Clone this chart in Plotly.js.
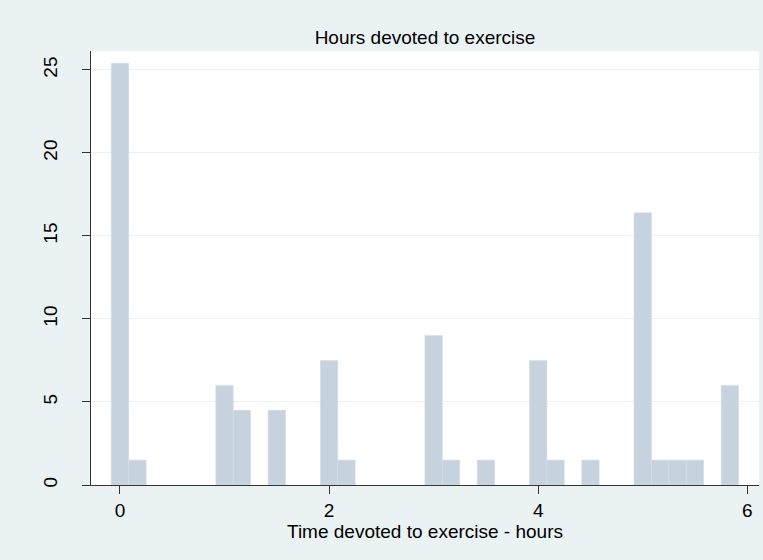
<!DOCTYPE html>
<html>
<head>
<meta charset="utf-8">
<script src="https://cdn.plot.ly/plotly-3.0.1.min.js"></script>
<style>html,body{margin:0;padding:0;background:#eaf2f3;}#chart{width:763px;height:560px;}</style>
</head>
<body>
<div id="chart"></div>
<script>
// Bin centres (hours) and percent of respondents in each 10-minute bin
const binCenters = [0, 0.1667, 1, 1.1667, 1.5, 2, 2.1667, 3, 3.1667, 3.5, 4, 4.1667, 4.5, 5, 5.1667, 5.3333, 5.5, 5.8333];
const percents   = [25.4, 1.5, 6.0, 4.5, 4.5, 7.5, 1.5, 9.0, 1.5, 1.5, 7.5, 1.5, 1.5, 16.4, 1.5, 1.5, 1.5, 6.0];
const binWidth = 1/6;
const xTicks = [0, 2, 4, 6];
const yTicks = [0, 5, 10, 15, 20, 25];

const font = "Liberation Sans, Arial, sans-serif";

const trace = {
  type: 'bar',
  x: binCenters,
  y: percents,
  width: binWidth,
  marker: {color: '#c6d3df', line: {color: '#d3dde6', width: 0.6}},
  hoverinfo: 'x+y'
};

const layout = {
  width: 763, height: 560,
  paper_bgcolor: '#eaf2f3',
  plot_bgcolor: '#ffffff',
  margin: {l: 91, r: 4, t: 51, b: 75},
  showlegend: false,
  bargap: 0,
  title: {
    text: 'Hours devoted to exercise',
    font: {family: font, size: 19, color: '#000000'},
    x: 0.5, xref: 'paper',
    y: 1 - 37/560, yref: 'container', yanchor: 'middle'
  },
  xaxis: {
    range: [-0.277, 6.112],
    tickvals: xTicks,
    ticktext: xTicks.map(String),
    ticks: 'outside', ticklen: 8, tickwidth: 1, tickcolor: '#333333',
    showline: true, linecolor: '#333333', linewidth: 1,
    showgrid: false, zeroline: false,
    tickfont: {family: font, size: 19, color: '#000000'},
    title: {text: 'Time devoted to exercise - hours', font: {family: font, size: 19, color: '#000000'}, standoff: 0}
  },
  yaxis: {
    range: [0, 26.14],
    tickvals: yTicks,
    ticktext: yTicks.map(String),
    tickangle: -90,
    ticklabelstandoff: 17,
    ticks: 'outside', ticklen: 8, tickwidth: 1, tickcolor: '#333333',
    showline: true, linecolor: '#333333', linewidth: 1,
    showgrid: true, gridcolor: '#eaf2f3', gridwidth: 1,
    zeroline: false,
    tickfont: {family: font, size: 19, color: '#000000'}
  }
};

Plotly.newPlot('chart', [trace], layout, {displayModeBar: false, staticPlot: true});
</script>
</body>
</html>
